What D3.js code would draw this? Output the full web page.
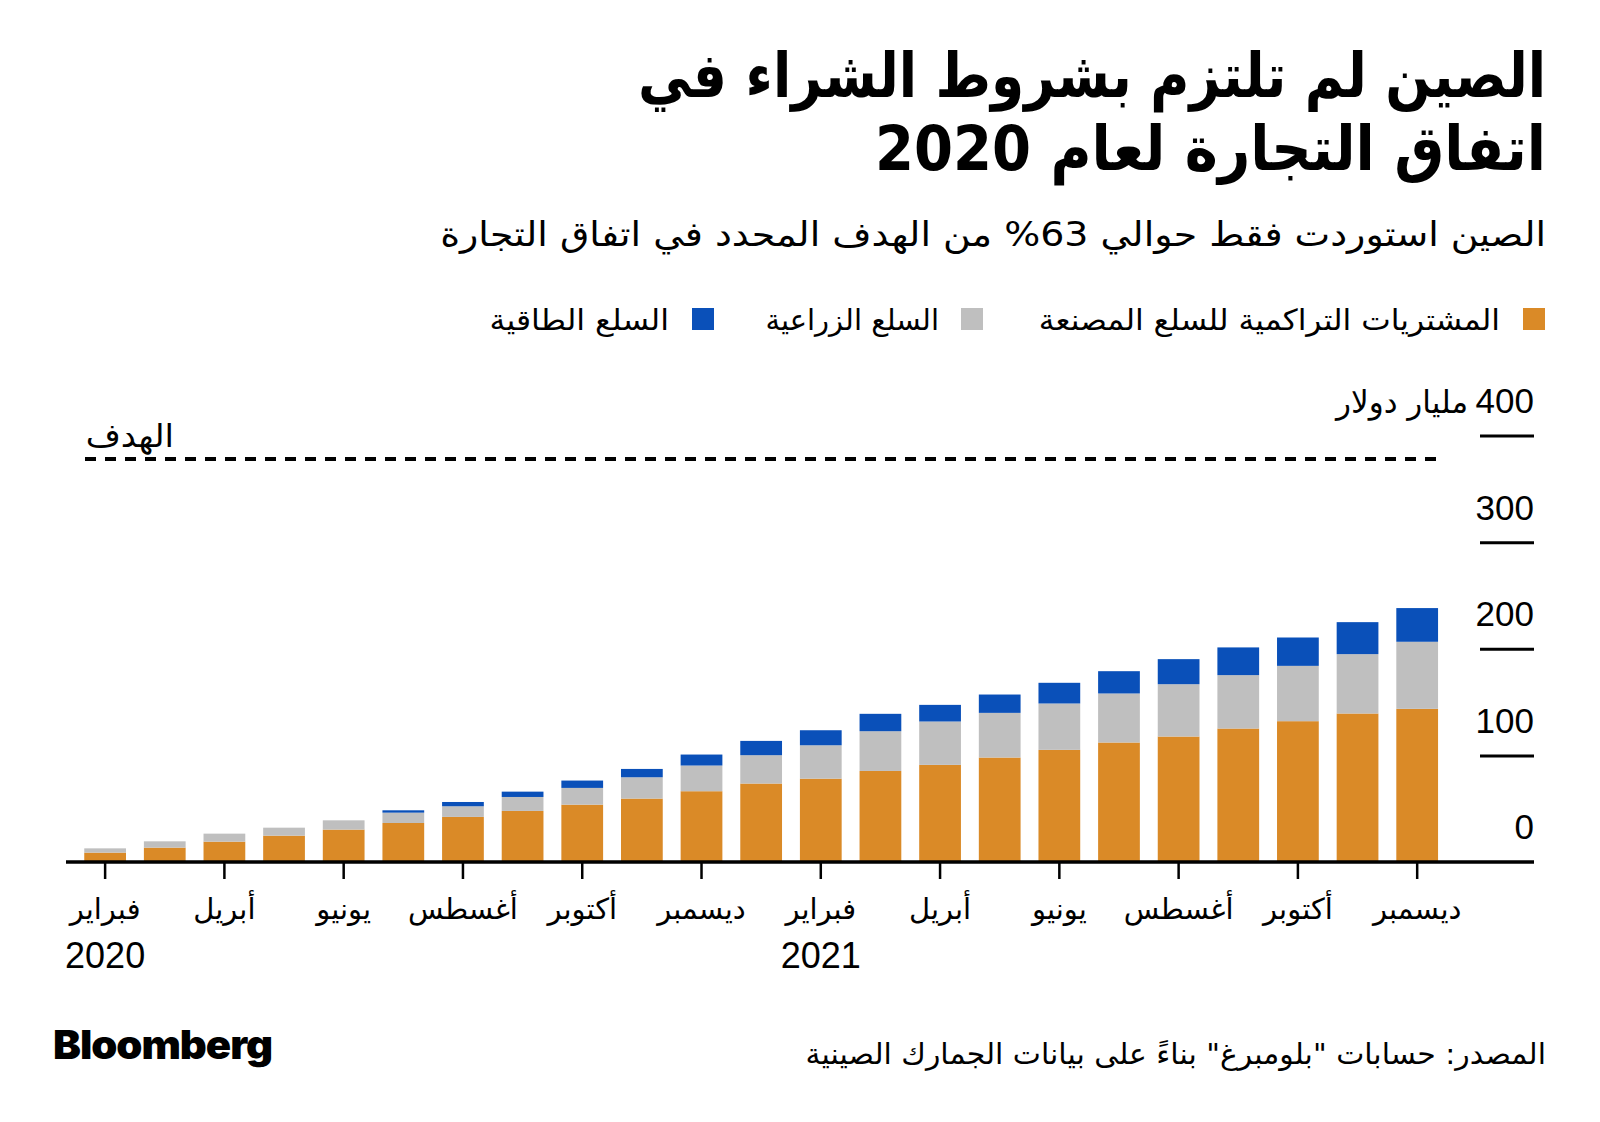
<!DOCTYPE html>
<html><head><meta charset="utf-8">
<script src="https://cdn.jsdelivr.net/npm/d3@7"></script>
<style>
body{margin:0;background:#fff;}
text{font-family:"DejaVu Sans","Noto Sans",sans-serif;}
</style></head>
<body><svg id="c" width="1600" height="1122"></svg>
<script>
const months = ["فبراير","مارس","أبريل","مايو","يونيو","يوليو","أغسطس","سبتمبر","أكتوبر","نوفمبر","ديسمبر","يناير",
                "فبراير","مارس","أبريل","مايو","يونيو","يوليو","أغسطس","سبتمبر","أكتوبر","نوفمبر","ديسمبر"];
const years = {0:"2020", 12:"2021"};
const manufactured = [8.8,13.5,19.1,24.7,30.4,36.6,42.3,47.9,53.8,59.5,66.4,73.6,78.2,85.4,91.1,98.0,105.2,112.1,117.7,125.2,132.1,139.3,143.7];
const agriculture  = [4.0,5.9,7.5,7.5,8.7,9.7,10.0,13.1,15.7,20.0,24.1,26.6,31.3,37.3,40.7,41.9,43.5,46.0,49.1,50.1,51.9,55.7,62.9];
const energy       = [0,0,0,0,0,2.2,4.0,5.0,6.9,7.8,10.3,13.4,14.1,16.3,15.6,17.2,19.4,20.9,23.5,26.0,26.6,30.0,31.6];
const target = 378;
const yTicks = [0,100,200,300,400];
const seriesNames = ["المشتريات التراكمية للسلع المصنعة","السلع الزراعية","السلع الطاقية"];
const colors = ["#DA8A27","#BFBFBF","#0A50B9"];

const svg = d3.select("#c");
const keys = ["m","a","e"];
const rows = months.map((m,i)=>({i, m:manufactured[i], a:agriculture[i], e:energy[i]}));
const stack = d3.stack().keys(keys)(rows);

const x = d3.scaleBand().domain(d3.range(months.length)).range([75.3,1447.0]).paddingInner(0.3).paddingOuter(0.15);
const y = d3.scaleLinear().domain([0,400]).range([862,435.6]);

function rtl(xp, yp, txt, size, sx, opts={}){
  const g = svg.append("g").attr("transform",`translate(${xp},${yp}) scale(${sx},1)`);
  const t = g.append("text").attr("direction","rtl").attr("text-anchor","start").attr("x",0).attr("y",0)
    .attr("font-size",size).attr("fill","#000").text(txt);
  if(opts.bold) t.attr("font-weight","bold");
  if(opts.family) t.style("font-family",opts.family);
  return t;
}

// title
rtl(1546,97,"الصين لم تلتزم بشروط الشراء في",62,0.957,{bold:true,family:"'DejaVu Sans Condensed','DejaVu Sans',sans-serif"});
rtl(1546,170,"اتفاق التجارة لعام 2020",62,1.005,{bold:true,family:"'DejaVu Sans Condensed','DejaVu Sans',sans-serif"});

// subtitle
rtl(1546,246,"الصين استوردت فقط حوالي \u202D%63\u202C من الهدف المحدد في اتفاق التجارة",34,1.115);

// legend
const legPos = [{sx:1523, tx:1500, s:1.08},{sx:961, tx:939, s:1.0},{sx:692, tx:669, s:1.09}];
seriesNames.forEach((n,k)=>{
  svg.append("rect").attr("x",legPos[k].sx).attr("y",308).attr("width",22).attr("height",22).attr("fill",colors[k]);
  rtl(legPos[k].tx,330,n,29,legPos[k].s);
});

// bars
svg.append("g").selectAll("g").data(stack).join("g").attr("fill",(d,k)=>colors[k])
  .selectAll("rect").data(d=>d).join("rect")
  .attr("x",d=>x(d.data.i)).attr("width",x.bandwidth())
  .attr("y",d=>y(d[1])).attr("height",d=>Math.max(0,y(d[0])-y(d[1])));

// y axis (short ticks on right with labels above)
const yAx = svg.append("g").attr("transform","translate(1534,0)")
  .call(d3.axisLeft(y).tickValues(yTicks.slice(1)).tickSize(54).tickFormat(d=>d));
yAx.select(".domain").remove();
yAx.selectAll("line").attr("stroke","#000").attr("stroke-width",3);
yAx.selectAll("text").attr("x",0).attr("dy",null).attr("y",-23).attr("font-size",35).attr("fill","#000")
  .attr("text-anchor","end").style("font-family","'Liberation Sans','DejaVu Sans',sans-serif");
yAx.selectAll(".tick").filter(d=>d===400).append("text").attr("direction","rtl").attr("text-anchor","start")
  .attr("x",-66).attr("y",-23).attr("font-size",31).attr("fill","#000").text("مليار دولار");
svg.append("text").attr("x",1534).attr("y",y(0)-23).attr("text-anchor","end").attr("font-size",35)
  .style("font-family","'Liberation Sans',sans-serif").text(yTicks[0]);

// target line
svg.append("line").attr("x1",85).attr("x2",1439).attr("y1",y(target)).attr("y2",y(target))
  .attr("stroke","#000").attr("stroke-width",4).attr("stroke-dasharray","11,9");
rtl(174,447,"الهدف",32,1.06);

// x axis
const xAx = svg.append("g").attr("transform",`translate(0,${y(0)})`)
  .call(d3.axisBottom(x).tickValues(d3.range(0,months.length,2)).tickSize(17).tickFormat(i=>months[i]));
xAx.select(".domain").remove();
xAx.selectAll("line").attr("stroke","#000").attr("stroke-width",2.5);
xAx.selectAll("text").attr("y",57).attr("dy",null).attr("font-size",29).attr("fill","#000").attr("direction","rtl").attr("text-anchor","middle");
xAx.selectAll(".tick").filter(i=>years[i]).append("text").attr("y",106).attr("text-anchor","middle")
  .attr("font-size",36).attr("fill","#000").style("font-family","'Liberation Sans',sans-serif").text(i=>years[i]);
svg.append("line").attr("x1",66).attr("x2",1534).attr("y1",y(0)).attr("y2",y(0)).attr("stroke","#000").attr("stroke-width",3.5);

// footer
svg.append("text").attr("x",53).attr("y",1059).attr("font-size",40).attr("font-weight",900)
  .attr("textLength",219).attr("lengthAdjust","spacingAndGlyphs")
  .style("font-family","Inter,Roboto,sans-serif").style("letter-spacing","-1px").text("Bloomberg");
rtl(1546,1064,"المصدر: حسابات \"بلومبرغ\" بناءً على بيانات الجمارك الصينية",29,1.03);
</script></body></html>
